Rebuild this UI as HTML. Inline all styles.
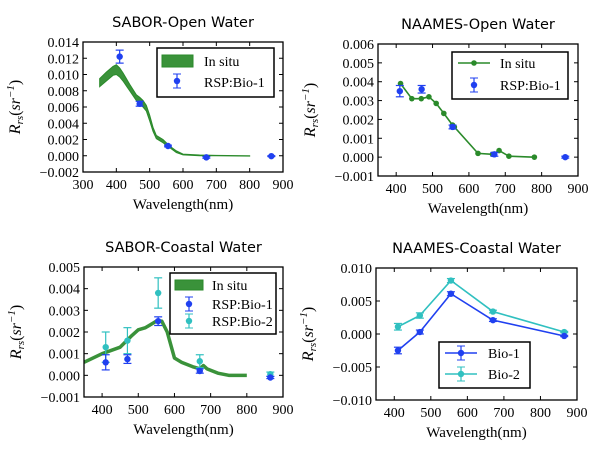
<!DOCTYPE html>
<html><head><meta charset="utf-8"><style>
body{margin:0;background:#fff;width:600px;height:451px;overflow:hidden}
svg text{font-family:"Liberation Serif",serif}
.t{font-family:"DejaVu Sans","Liberation Sans",sans-serif;font-size:14.5px}
</style></head><body>
<svg id="c" width="600" height="451" viewBox="0 0 600 451"></svg>
<script>
// Panel 1: SABOR-Open Water
const p1Wl=[350,370,390,400,410,420,440,460,470,480,490,500,510,520,540,560,580,600,650,700,800];
const p1Upper=[.0095,.0103,.0110,.0112,.0108,.0102,.0088,.0075,.0072,.0068,.0062,.0050,.0035,.0025,.0020,.0012,.0006,.0002,.0001,.00005,0];
const p1Lower=[.0085,.0092,.0099,.0100,.0097,.0092,.0080,.0068,.0064,.0060,.0055,.0043,.0030,.0021,.0016,.0010,.0004,.0001,0,0,-.00005];
const p1RspWl=[410,470,555,670,865];
const p1Rsp=[.0122,.0064,.0012,-.0002,-.00005];
const p1RspErr=[.0008,.0003,.0001,.0001,.00005];
// Panel 2: NAAMES-Open Water
const p2Wl=[412,443,469,490,510,531,555,560,625,665,683,710,780];
const p2Insitu=[.0039,.0031,.0031,.0032,.00285,.00232,.0017,.0016,.0002,.00015,.00035,.00005,0];
const p2RspWl=[410,470,555,670,865];
const p2Rsp=[.0035,.0036,.0016,.00015,0];
const p2RspErr=[.0003,.0002,.0001,.0001,.00005];
// Panel 3: SABOR-Coastal Water
const p3Wl=[350,400,450,480,500,520,530,550,565,580,600,620,650,670,680,690,720,750,800];
const p3Insitu=[.0006,.0010,.0013,.0018,.0021,.0022,.0023,.0025,.0025,.0020,.0008,.0006,.0004,.0003,.00045,.0003,.0001,0,0];
const p3RspWl=[410,470,555,670,865];
const p3Bio1=[.0006,.00075,.0025,.0002,-.0001];
const p3Bio1Err=[.00035,.0002,.0002,.0001,.00005];
const p3Bio2=[.0013,.0016,.0038,.00065,.00005];
const p3Bio2Err=[.0007,.0006,.0007,.0003,.0001];
// Panel 4: NAAMES-Coastal Water
const p4Wl=[410,470,555,670,865];
const p4Bio1=[-.0025,.0003,.0061,.0021,-.0003];
const p4Bio1Err=[.0005,.0003,.0003,.0002,.0001];
const p4Bio2=[.0011,.0028,.0081,.0034,.0003];
const p4Bio2Err=[.0005,.0004,.0003,.0002,.0001];

const NS="http://www.w3.org/2000/svg";
const svg=document.getElementById('c');
const BLUE="#2040f0",CYAN="#30c0c0",GREEN="#2a8a2a";
function mk(tag,at,parent){const e=document.createElementNS(NS,tag);for(const k in at)e.setAttribute(k,at[k]);(parent||svg).appendChild(e);return e;}

function panel(o){
  const g=mk('g',{});
  
  
  const sx=v=>o.L+(v-o.x0)/(o.x1-o.x0)*(o.R-o.L);
  const sy=v=>o.B-(v-o.y0)/(o.y1-o.y0)*(o.B-o.T);
  const tt=mk('text',{x:(o.L+o.R)/2,y:o.T-15,'text-anchor':'middle',class:'t',fill:'#000'},g);
  tt.textContent=o.title;
  
  
  o.xt.forEach(v=>{
    const x=sx(v);
    mk('line',{x1:x,x2:x,y1:o.B,y2:o.B-4,stroke:'#000'},g);
    mk('line',{x1:x,x2:x,y1:o.T,y2:o.T+4,stroke:'#000'},g);
    const t=mk('text',{x:x,y:o.B+17,'text-anchor':'middle','font-size':'14px'},g);
    t.textContent=v;
    
    
  });
  o.yt.forEach(v=>{
    const y=sy(v);
    mk('line',{x1:o.L,x2:o.L+4,y1:y,y2:y,stroke:'#000'},g);
    mk('line',{x1:o.R,x2:o.R-4,y1:y,y2:y,stroke:'#000'},g);
    const t=mk('text',{x:o.L-4,y:y+5,'text-anchor':'end','font-size':'14px'},g);
    t.textContent=(v<0?'\u2212':'')+Math.abs(v).toFixed(o.dec);
    
    
  });
  const xl=mk('text',{x:(o.L+o.R)/2,y:o.B+37,'text-anchor':'middle','font-size':'15px'},g);
  xl.textContent='Wavelength(nm)';
  
  
  const yx=o.L-63, yy=(o.T+o.B)/2;
  const yl=mk('text',{x:yx,y:yy,'text-anchor':'middle','font-size':'16px','font-style':'italic',transform:`rotate(-90 ${yx} ${yy})`},g);
  yl.innerHTML='R<tspan font-size="11px" dy="3">rs</tspan><tspan dy="-3" font-style="normal">(</tspan>sr<tspan font-size="11px" dy="-6">\u22121</tspan><tspan dy="6" font-style="normal">)</tspan>';
  
  
  const clip='cl'+o.name;
  const cp=mk('clipPath',{id:clip},g);mk('rect',{x:o.L,y:o.T,width:o.R-o.L,height:o.B-o.T},cp);
  const d=mk('g',{'clip-path':`url(#${clip})`},g);
  o.draw(d,sx,sy);
  mk('rect',{x:o.L,y:o.T,width:o.R-o.L,height:o.B-o.T,fill:'none',stroke:'#000','stroke-width':1.3},g);
  o.legend(g);
}
function line(d,xs,ys,sx,sy,col,w,name,dots){
  const p=mk('polyline',{points:xs.map((x,i)=>sx(x)+','+sy(ys[i])).join(' '),fill:'none',stroke:col,'stroke-width':w,'stroke-linejoin':'round'},d);
  
  
  if(dots)xs.forEach((x,i)=>{const c=mk('circle',{cx:sx(x),cy:sy(ys[i]),r:2.8,fill:col},d);
    
    });
}
function errs(d,xs,ys,es,sx,sy,col,name){
  xs.forEach((x,i)=>{
    const X=sx(x),a=sy(ys[i]-es[i]),b=sy(ys[i]+es[i]);
    mk('line',{x1:X,x2:X,y1:a,y2:b,stroke:col,'stroke-width':1.2},d);
    mk('line',{x1:X-4,x2:X+4,y1:a,y2:a,stroke:col,'stroke-width':1.2},d);
    mk('line',{x1:X-4,x2:X+4,y1:b,y2:b,stroke:col,'stroke-width':1.2},d);
    const c=mk('circle',{cx:X,cy:sy(ys[i]),r:3.2,fill:col},d);
    
    
  });
}
function legBox(g,x,y,w,h){const r=mk('rect',{x,y,width:w,height:h,fill:'#fff',stroke:'#000','stroke-width':1.5},g);
  
  }
function legText(g,x,y,s){const t=mk('text',{x,y,'font-size':'14px'},g);t.textContent=s;
  
  }
function legErr(g,x,y,col){mk('line',{x1:x,x2:x,y1:y-7,y2:y+7,stroke:col,'stroke-width':1.2},g);
  mk('line',{x1:x-4,x2:x+4,y1:y-7,y2:y-7,stroke:col},g);mk('line',{x1:x-4,x2:x+4,y1:y+7,y2:y+7,stroke:col},g);
  mk('circle',{cx:x,cy:y,r:3.2,fill:col},g);}

panel({name:'sabor-open-panel',title:'SABOR-Open Water',L:83,R:283,T:42,B:172,x0:300,x1:900,y0:-.002,y1:.014,
  xt:[300,400,500,600,700,800,900],yt:[-.002,0,.002,.004,.006,.008,.010,.012,.014],dec:3,
  draw:(d,sx,sy)=>{
    const pts=p1Wl.map((x,i)=>sx(x)+','+sy(p1Upper[i])).concat(p1Wl.map((x,i)=>sx(x)+','+sy(p1Lower[i])).reverse());
    const b=mk('polygon',{points:pts.join(' '),fill:'#3a923a',stroke:GREEN,'stroke-width':1},d);
    
    
    errs(d,p1RspWl,p1Rsp,p1RspErr,sx,sy,BLUE,'rsp-bio-1-point');
  },
  legend:g=>{legBox(g,157,48,117,49);mk('rect',{x:162,y:55,width:31,height:12,fill:'#3a923a',stroke:GREEN},g);
    legText(g,204,66,'In situ');legErr(g,177,81,BLUE);legText(g,204,87,'RSP:Bio-1');}
});
panel({name:'naames-open-panel',title:'NAAMES-Open Water',L:378,R:578,T:44,B:176,x0:350,x1:900,y0:-.001,y1:.006,
  xt:[400,500,600,700,800,900],yt:[-.001,0,.001,.002,.003,.004,.005,.006],dec:3,
  draw:(d,sx,sy)=>{
    line(d,p2Wl,p2Insitu,sx,sy,GREEN,1.6,'in-situ-line',true);
    errs(d,p2RspWl,p2Rsp,p2RspErr,sx,sy,BLUE,'rsp-bio-1-point');
  },
  legend:g=>{legBox(g,452,52,116,47);mk('line',{x1:458,x2:490,y1:63,y2:63,stroke:GREEN,'stroke-width':1.6},g);
    mk('circle',{cx:474,cy:63,r:2.8,fill:GREEN},g);legText(g,500,68,'In situ');legErr(g,474,85,BLUE);legText(g,500,90,'RSP:Bio-1');}
});
panel({name:'sabor-coastal-panel',title:'SABOR-Coastal Water',L:84,R:283,T:267,B:397,x0:350,x1:900,y0:-.001,y1:.005,
  xt:[400,500,600,700,800,900],yt:[-.001,0,.001,.002,.003,.004,.005],dec:3,
  draw:(d,sx,sy)=>{
    line(d,p3Wl,p3Insitu,sx,sy,'#3a923a',3.5,'in-situ-line',false);
    errs(d,p3RspWl,p3Bio2,p3Bio2Err,sx,sy,CYAN,'rsp-bio-2-point');
    errs(d,p3RspWl,p3Bio1,p3Bio1Err,sx,sy,BLUE,'rsp-bio-1-point');
  },
  legend:g=>{legBox(g,170,273,106,61);mk('rect',{x:175,y:280,width:28,height:10,fill:'#3a923a',stroke:GREEN},g);
    legText(g,212,290,'In situ');legErr(g,189,304,BLUE);legText(g,212,309,'RSP:Bio-1');
    legErr(g,189,321,CYAN);legText(g,212,326,'RSP:Bio-2');}
});
panel({name:'naames-coastal-panel',title:'NAAMES-Coastal Water',L:376,R:577,T:268,B:400,x0:350,x1:900,y0:-.010,y1:.010,
  xt:[400,500,600,700,800,900],yt:[-.010,-.005,0,.005,.010],dec:3,
  draw:(d,sx,sy)=>{
    line(d,p4Wl,p4Bio2,sx,sy,CYAN,1.6,'bio-2-line',false);
    errs(d,p4Wl,p4Bio2,p4Bio2Err,sx,sy,CYAN,'bio-2-point');
    line(d,p4Wl,p4Bio1,sx,sy,BLUE,1.6,'bio-1-line',false);
    errs(d,p4Wl,p4Bio1,p4Bio1Err,sx,sy,BLUE,'bio-1-point');
  },
  legend:g=>{legBox(g,439,342,91,46);
    mk('line',{x1:445,x2:477,y1:353,y2:353,stroke:BLUE,'stroke-width':1.6},g);legErr(g,461,353,BLUE);legText(g,488,358,'Bio-1');
    mk('line',{x1:445,x2:477,y1:374,y2:374,stroke:CYAN,'stroke-width':1.6},g);legErr(g,461,374,CYAN);legText(g,488,379,'Bio-2');}
});
</script>
</body></html>
